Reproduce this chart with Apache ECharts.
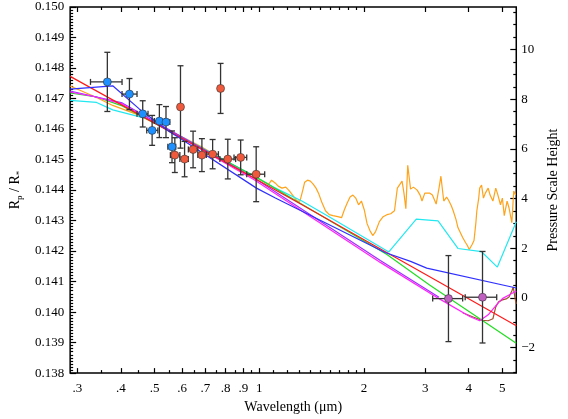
<!DOCTYPE html>
<html>
<head>
<meta charset="utf-8">
<script src="https://cdn.jsdelivr.net/npm/echarts@6/dist/echarts.min.js"></script>
<style>
html,body{margin:0;padding:0;background:#fff;}
#chart{width:568px;height:419px;}
</style>
</head>
<body>
<div id="chart"></div>
<script>
// 观测点 - 蓝色
var blueWave   = [0.3656, 0.4232, 0.4621, 0.4918, 0.5160, 0.5391, 0.5610];
var blueWaveLo = [0.327, 0.403, 0.445, 0.4746, 0.4991, 0.527, 0.5458];
var blueWaveHi = [0.403, 0.445, 0.4786, 0.5108, 0.5346, 0.553, 0.5751];
var blueRad    = [0.147545, 0.147146, 0.146497, 0.145956, 0.146260, 0.146228, 0.145417];
var blueErr    = [0.00097, 0.00051, 0.00043, 0.00049, 0.00054, 0.00051, 0.00052];
// 观测点 - 红色 (没有横向误差的用 null)
var redWave   = [0.5716, 0.5934, 0.6097, 0.6450, 0.6838, 0.7341, 0.7738, 0.8117, 0.8839, 0.9795];
var redWaveLo = [0.5550, null, 0.5910, 0.6252, 0.6656, 0.7041, null, 0.7703, 0.8459, 0.9201];
var redWaveHi = [0.5910, null, 0.6252, 0.6656, 0.7041, 0.7627, null, 0.8550, 0.9201, 1.0363];
var redRad    = [0.145145, 0.146724, 0.145015, 0.145330, 0.145145, 0.145177, 0.147331, 0.145015, 0.145070, 0.144519];
var redErr    = [0.00057, 0.00135, 0.00058, 0.00060, 0.00054, 0.00048, 0.00082, 0.00065, 0.00057, 0.00090];
// 观测点 - 紫色 (红外)
var purpleWave   = [3.499, 4.384];
var purpleWaveLo = [3.152, 3.909];
var purpleWaveHi = [3.844, 4.816];
var purpleRad    = [0.140442, 0.140487];
var purpleErr    = [0.00141, 0.00150];

// 模型曲线 (单位: 压力标高)
var redModelWave = [0.2858, 1.2845, 3.2868, 5.482];
var redModelH    = [8.92, 3.86, 0.64, -1.12];
var blueModelWave = [0.2858, 0.3789, 0.4515, 0.5516, 0.5948, 0.9814, 1.1124, 2.2993, 2.7228, 3.0299, 5.482];
var blueModelH    = [8.41, 8.54, 7.61, 6.69, 6.41, 4.42, 4.02, 1.83, 1.47, 1.20, 0.40];
var greenModelWave = [0.2858, 0.3405, 0.4034, 0.9692, 2.3283, 3.0874, 5.482];
var greenModelH    = [8.25, 8.09, 7.73, 4.90, 1.75, 0.52, -1.83];
var cyanModelWave = [0.2858, 0.3405, 0.3789, 0.4776, 0.6868, 0.9692, 1.0984, 1.3254, 1.5694, 2.3576, 2.8276, 3.2663, 3.7254, 4.3567, 4.8370, 5.482];
var cyanModelH    = [7.95, 7.87, 7.57, 7.21, 6.02, 4.90, 4.46, 3.90, 3.31, 1.85, 3.17, 3.10, 1.99, 1.86, 1.24, 3.07];
var magentaModelWave = [0.2858, 0.3342, 0.4034, 0.9692, 2.2285, 3.2868, 4.0412, 4.3025, 4.5519, 4.8370, 5.0002, 5.2242, 5.482];
var magentaModelH    = [8.29, 8.11, 7.81, 4.75, 1.43, -0.03, -0.76, -0.92, -0.68, -0.24, -0.03, 0.12, 0.28];
var violetModelWave = [0.2858, 0.4034, 0.9692, 2.2285, 3.2868];
var violetModelH    = [8.33, 7.85, 4.82, 1.51, 0.03];
var brownModelWave = [3.8439, 4.1362, 4.3567, 4.5519, 4.6966, 4.7857, 4.8765, 5.0002, 5.1270, 5.2242, 5.3233, 5.3734, 5.4070, 5.442, 5.482];
var brownModelH    = [-0.60, -0.78, -0.90, -0.92, -0.84, -0.36, -0.16, -0.08, -0.04, 0.04, 0.28, 0.44, 0.20, -0.04, -0.24];
var orangeWave = [0.2858, 0.3405, 0.3789, 0.4487, 0.6868, 0.9161, 0.9511, 0.9876, 1.0254, 1.0646,
  1.0848, 1.1124, 1.1334, 1.1621, 1.1916, 1.2218, 1.2527, 1.2845, 1.3089, 1.3337,
  1.3505, 1.3761, 1.4022, 1.4288, 1.4559, 1.4835, 1.5116, 1.5499, 1.5892, 1.6294,
  1.6813, 1.7239, 1.7565, 1.7898, 1.8238, 1.8584, 1.8936, 1.9295, 1.9661, 2.0034,
  2.0414, 2.0801, 2.1195, 2.1597, 2.2146, 2.2707, 2.3283, 2.3872, 2.4477, 2.4942,
  2.5257, 2.5736, 2.6060, 2.6389, 2.6721, 2.7228, 2.7745, 2.8448, 2.9000, 2.9365,
  2.9922, 3.0299, 3.0874, 3.1459, 3.2257, 3.2868, 3.3282, 3.3913, 3.4557, 3.4993,
  3.5656, 3.6106, 3.6790, 3.7254, 3.7960, 3.8439, 3.9167, 3.9661, 4.0160, 4.0923,
  4.1439, 4.1961, 4.2224, 4.2756, 4.3025, 4.3567, 4.4116, 4.4671, 4.5519, 4.6092,
  4.6966, 4.7857, 4.8460, 4.9380, 5.0002, 5.0632, 5.1592, 5.2242, 5.3233, 5.3904, 5.4582];
var orangeH = [8.53, 8.07, 7.75, 7.37, 6.06, 5.02, 4.98, 4.82, 4.70, 4.58,
  4.74, 4.62, 4.50, 4.42, 4.46, 4.30, 4.10, 3.90, 3.90, 4.34,
  4.66, 4.74, 4.70, 4.58, 4.42, 4.18, 3.86, 3.51, 3.35, 3.31,
  3.27, 3.23, 3.55, 3.82, 4.06, 4.14, 4.02, 3.75, 3.90, 3.55,
  2.99, 2.71, 2.51, 2.67, 3.07, 3.27, 3.35, 3.39, 3.51, 4.42,
  4.34, 4.70, 4.22, 3.59, 5.34, 4.38, 4.46, 4.34, 4.14, 3.90,
  4.22, 4.30, 4.22, 4.14, 3.78, 4.42, 4.90, 3.90, 4.06, 3.94,
  3.71, 3.51, 3.15, 2.83, 2.59, 2.43, 2.23, 2.11, 1.95, 2.15,
  2.31, 3.03, 3.51, 4.02, 4.42, 4.54, 4.02, 4.22, 4.42, 4.14,
  3.90, 4.42, 4.18, 3.75, 4.02, 3.31, 3.90, 3.63, 3.03, 4.30, 4.14];

// 坐标轴
var waveMin = 0.2858, waveMax = 5.482;
var xMajor = [0.3, 0.4, 0.5, 0.6, 0.7, 0.8, 0.9, 1, 2, 3, 4, 5];
var xMinor = [0.35, 0.45, 0.55, 0.65, 0.75, 0.85, 0.95, 1.1, 1.2, 1.3, 1.4, 1.5, 1.6, 1.7, 1.8, 1.9];
var hMajor = [-2, 0, 2, 4, 6, 8, 10];

var FONT = 'Liberation Serif';
function lg(w){ return Math.log10(w); }
function pairs(wave, vals){ return wave.map(function(w, i){ return [lg(w), vals[i]]; }); }
function errRows(wave, lo, hi, rad, err){
	return wave.map(function(w, i){
		var l = lo[i] == null ? w : lo[i];
		var h = hi[i] == null ? w : hi[i];
		return [lg(w), rad[i], lg(l), lg(h), err[i]];
	});
}

var rMajor = [], rMinor = [];
for (var i = 0; i <= 120; i++) {
	var v = +(0.138 + i * 0.0001).toFixed(4);
	if (i % 10 == 0) rMajor.push(v); else rMinor.push(v);
}
var hMinor = [];
for (var k = -3; k <= 11.5; k += 0.5) {
	if (hMajor.indexOf(k) < 0) hMinor.push(k);
}

function renderErr(params, api){
	var x = api.value(0), y = api.value(1), lo = api.value(2), hi = api.value(3), e = api.value(4);
	var p = api.coord([x, y]), pt = api.coord([x, y + e]), pb = api.coord([x, y - e]);
	var st = {stroke: '#333', lineWidth: 1.3};
	var c = 3;
	var ch = [
		{type: 'line', shape: {x1: p[0], y1: pt[1], x2: p[0], y2: pb[1]}, style: st},
		{type: 'line', shape: {x1: p[0] - c, y1: pt[1], x2: p[0] + c, y2: pt[1]}, style: st},
		{type: 'line', shape: {x1: p[0] - c, y1: pb[1], x2: p[0] + c, y2: pb[1]}, style: st}
	];
	if (hi > lo) {
		var pl = api.coord([lo, y]), ph = api.coord([hi, y]);
		ch.push({type: 'line', shape: {x1: pl[0], y1: p[1], x2: ph[0], y2: p[1]}, style: st});
		ch.push({type: 'line', shape: {x1: pl[0], y1: p[1] - c, x2: pl[0], y2: p[1] + c}, style: st});
		ch.push({type: 'line', shape: {x1: ph[0], y1: p[1] - c, x2: ph[0], y2: p[1] + c}, style: st});
	}
	return {type: 'group', children: ch};
}

function xAx(pos, ticks, len, labels){
	return {
		type: 'value', position: pos, min: lg(waveMin), max: lg(waveMax),
		axisLine: {show: false, onZero: false}, splitLine: {show: false},
		axisTick: {show: true, inside: true, length: len, customValues: ticks.map(lg), lineStyle: {color: '#000', width: 1.2}},
		axisLabel: {show: labels, customValues: ticks.map(lg), margin: 9, color: '#000', fontFamily: FONT, fontSize: 13,
			formatter: function(v){
				var w = Math.pow(10, v);
				return w < 0.99 ? '.' + Math.round(w * 10) : String(Math.round(w));
			}}
	};
}
function yAx(pos, min, max, ticks, len, labels, fmt){
	return {
		type: 'value', position: pos, min: min, max: max,
		axisLine: {show: false, onZero: false}, splitLine: {show: false},
		axisTick: {show: true, inside: true, length: len, customValues: ticks, lineStyle: {color: '#000', width: 1.2}},
		axisLabel: {show: labels, customValues: ticks, margin: pos == 'left' ? 6 : 5, color: '#000', fontFamily: FONT, fontSize: 13, formatter: fmt}
	};
}

var xBottom = xAx('bottom', xMajor, 5, true);
xBottom.name = 'Wavelength (\u03bcm)';
xBottom.nameLocation = 'middle';
xBottom.nameGap = 24;
xBottom.nameTextStyle = {fontFamily: FONT, fontSize: 14, color: '#000'};

var yLeft = yAx('left', 0.138, 0.150, rMajor, 6, true, function(v){ return v.toFixed(3); });
yLeft.name = '{r|R}{s|p}{r| / R}{s|*}';
yLeft.nameLocation = 'middle';
yLeft.nameRotate = 90;
yLeft.nameGap = 38;
yLeft.nameTextStyle = {rich: {
	r: {fontFamily: FONT, fontSize: 14, color: '#000', lineHeight: 18},
	s: {fontFamily: FONT, fontSize: 9, color: '#000', lineHeight: 18, verticalAlign: 'bottom', padding: [7, 0, 0, 0]}
}};

var yRight = yAx('right', -3.028, 11.713, hMajor, 6, true, function(v){
	return v < 0 ? '\u2212' + Math.abs(v) : String(v);
});
yRight.name = 'Pressure Scale Height';
yRight.nameLocation = 'middle';
yRight.nameRotate = 90;
yRight.nameGap = 20;
yRight.nameTextStyle = {fontFamily: FONT, fontSize: 14, color: '#000'};

function modelLine(data, color){
	return {type: 'line', xAxisIndex: 0, yAxisIndex: 2, data: data, showSymbol: false, symbol: 'none',
		lineStyle: {color: color, width: 1.2}, z: 2, silent: true};
}
function points(data, color){
	return {type: 'scatter', xAxisIndex: 0, yAxisIndex: 0, data: data, symbol: 'circle', symbolSize: 8,
		itemStyle: {color: color, borderColor: '#333', borderWidth: 0.6, opacity: 1}, z: 5};
}
function errBars(data){
	return {type: 'custom', xAxisIndex: 0, yAxisIndex: 0, data: data, renderItem: renderErr,
		encode: {x: 0, y: 1}, z: 4, silent: true};
}

var chart = echarts.init(document.getElementById('chart'));
chart.setOption({
	animation: false,
	backgroundColor: '#fff',
	grid: {left: 60, right: 36, top: 7, bottom: 42, show: true, borderColor: '#000', borderWidth: 1.5},
	xAxis: [xBottom, xAx('bottom', xMinor, 3, false), xAx('top', xMajor, 5, false), xAx('top', xMinor, 3, false)],
	yAxis: [yLeft, yAx('left', 0.138, 0.150, rMinor, 3, false), yRight, yAx('right', -3.028, 11.713, hMinor, 3, false)],
	series: [
		modelLine(pairs(orangeWave, orangeH), '#ffa31a'),
		modelLine(pairs(cyanModelWave, cyanModelH), '#22e8f0'),
		modelLine(pairs(brownModelWave, brownModelH), '#a0522d'),
		modelLine(pairs(greenModelWave, greenModelH), '#22dd22'),
		modelLine(pairs(violetModelWave, violetModelH), '#9933ff'),
		modelLine(pairs(magentaModelWave, magentaModelH), '#ff22ff'),
		modelLine(pairs(redModelWave, redModelH), '#ff1a1a'),
		modelLine(pairs(blueModelWave, blueModelH), '#3030ff'),
		errBars(errRows(blueWave, blueWaveLo, blueWaveHi, blueRad, blueErr)),
		errBars(errRows(redWave, redWaveLo, redWaveHi, redRad, redErr)),
		errBars(errRows(purpleWave, purpleWaveLo, purpleWaveHi, purpleRad, purpleErr)),
		points(pairs(blueWave, blueRad), '#1e90ff'),
		points(pairs(redWave, redRad), '#f05a3c'),
		points(pairs(purpleWave, purpleRad), '#c060c0')
	]
});
</script>
</body>
</html>
